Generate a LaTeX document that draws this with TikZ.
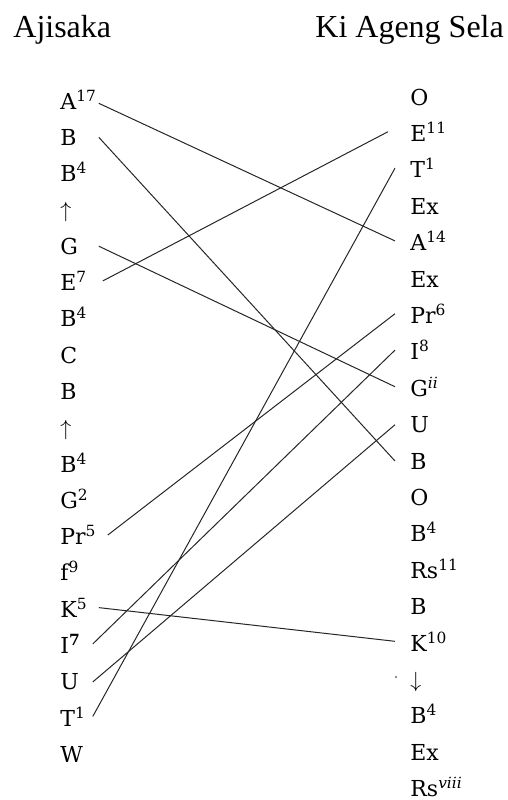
\documentclass[tikz,border=0pt]{standalone}
\usepackage{fontspec}
\setmainfont{DejaVu Serif}
\newfontfamily\headfont{Liberation Serif}

\begin{document}
\begin{tikzpicture}[x=0.5pt,y=-0.5pt,
    item/.style={anchor=base west,inner xsep=3pt,inner ysep=0pt,font=\fontsize{11}{13}\selectfont},
    lft/.style={item,text width=16pt,align=left},
    rgt/.style={item,inner xsep=7.5pt},
    head/.style={anchor=base west,inner sep=0pt,font=\headfont\fontsize{16}{19}\selectfont},
    link/.style={line width=0.5pt,black!85}]
  \useasboundingbox (0,0) rectangle (508,800);
  \node[head] (ajisaka) at (13,37) {Ajisaka};
  \node[head] (sela) at (315,37) {Ki Ageng Sela};
  % left column
  \foreach \t [count=\i] in {A\textsuperscript{17},B,B\textsuperscript{4},$\uparrow$,G,E\textsuperscript{7},
      B\textsuperscript{4},C,B,$\uparrow$,B\textsuperscript{4},G\textsuperscript{2},Pr\textsuperscript{5},
      f\textsuperscript{9},K\textsuperscript{5},I\textsuperscript{\textbf{7}},U,T\textsuperscript{1},W}
    \node[lft] (l\i) at (54,{109+36.3*(\i-1)}) {\t};
  % right column
  \foreach \t [count=\i] in {O,E\textsuperscript{11},T\textsuperscript{1},Ex,A\textsuperscript{14},Ex,
      Pr\textsuperscript{6},I\textsuperscript{8},G\textsuperscript{\textit{ii}},U,B,O,B\textsuperscript{4},
      Rs\textsuperscript{11},B,K\textsuperscript{10},$\downarrow$,B\textsuperscript{4},Ex,Rs\textsuperscript{\textit{viii}}}
    \node[rgt] (r\i) at (395,{105+36.4*(\i-1)}) {\t};
  % links
  \draw[link] ([yshift=-2pt]l1.east) -- (r5.west);
  \draw[link] (l2.east) -- (r11.west);
  \draw[link] (l5.east) -- (r9.west);
  \draw[link] ([xshift=2pt]l6.east) -- ([xshift=-3.5pt]r2.west);
  \draw[link] ([xshift=4.5pt]l13.east) -- (r7.west);
  \draw[link] ([xshift=-3pt]l16.east) -- (r8.west);
  \draw[link] ([xshift=-3pt]l17.east) -- (r10.west);
  \draw[link] ([xshift=-3pt]l18.east) -- (r3.west);
  \draw[link] (l15.east) -- (r16.west);
  \fill[black!60] (396,677) circle (1.2);
\end{tikzpicture}
\end{document}
